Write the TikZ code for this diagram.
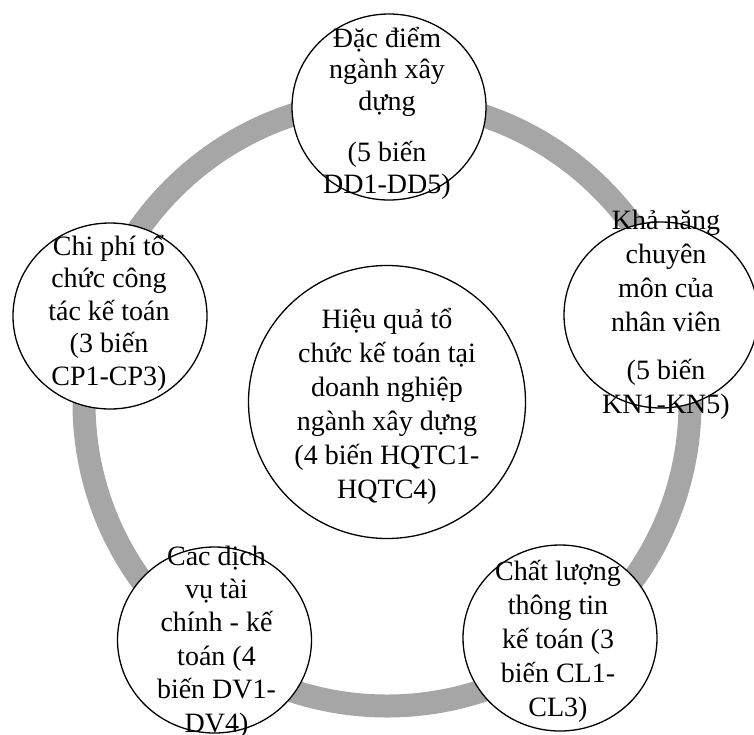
\documentclass[tikz,border=0pt]{standalone}
\usepackage{fontspec}
\setmainfont{Liberation Serif}
\usetikzlibrary{shapes.geometric}
\definecolor{ringgray}{RGB}{166,166,166}
\newcommand\stacklines[2]{\vtop{\baselineskip=#1\lineskiplimit=-100pt\relax\halign{\hfil##\hfil\cr#2\crcr}}}
\tikzset{
  bub/.style={ellipse, draw=black, line width=1.3pt, fill=white,
    minimum width=194pt, minimum height=186pt, inner sep=0pt},
  hub/.style={ellipse, draw=black, line width=1.3pt, fill=white,
    minimum width=277pt, minimum height=273pt, inner sep=0pt},
  txt/.style={anchor=base, inner sep=0pt, font=\fontsize{28}{33}\selectfont},
  ringline/.style={draw=ringgray, line width=23pt}
}
\begin{document}
\begin{tikzpicture}[x=1pt,y=-1pt]
\useasboundingbox (0,0) rectangle (754,734);
% ring
\coordinate (rc) at (387,403);
\draw[ringline] (rc) circle[radius=303pt];
% bubbles
\node[hub] (hq) at (387,402) {};
\node[bub] (dd) at (389,107) {};
\node[bub] (kn) at (661,315) {};
\node[bub] (cl) at (560,638) {};
\node[bub] (dv) at (214.5,640) {};
\node[bub] (cp) at (110,316) {};
% texts
\node[txt] (hqt) at (387,328) {\stacklines{34pt}{Hiệu quả tổ\cr chức kế toán tại\cr doanh nghiệp\cr ngành xây dựng\cr (4 biến HQTC1-\cr HQTC4)}};
\node[txt] (ddt) at (387,47) {\stacklines{31.5pt}{Đặc điểm\cr ngành xây\cr dựng\cr\noalign{\vskip 20pt}(5 biến\cr DD1-DD5)}};
\node[txt] (knt) at (666,229) {\stacklines{34pt}{Khả năng\cr chuyên\cr môn của\cr nhân viên\cr\noalign{\vskip 14pt}(5 biến\cr KN1-KN5)}};
\node[txt] (clt) at (558,580) {\stacklines{34pt}{Chất lượng\cr thông tin\cr kế toán (3\cr biến CL1-\cr CL3)}};
\node[txt] (dvt) at (216.5,565) {\stacklines{33.4pt}{Cac dịch\cr vụ tài\cr chính - kế\cr toán (4\cr biến DV1-\cr DV4)}};
\node[txt] (cpt) at (109,255) {\stacklines{32.5pt}{Chi phí tổ\cr chức công\cr tác kế toán\cr (3 biến\cr CP1-CP3)}};
\end{tikzpicture}
\end{document}
